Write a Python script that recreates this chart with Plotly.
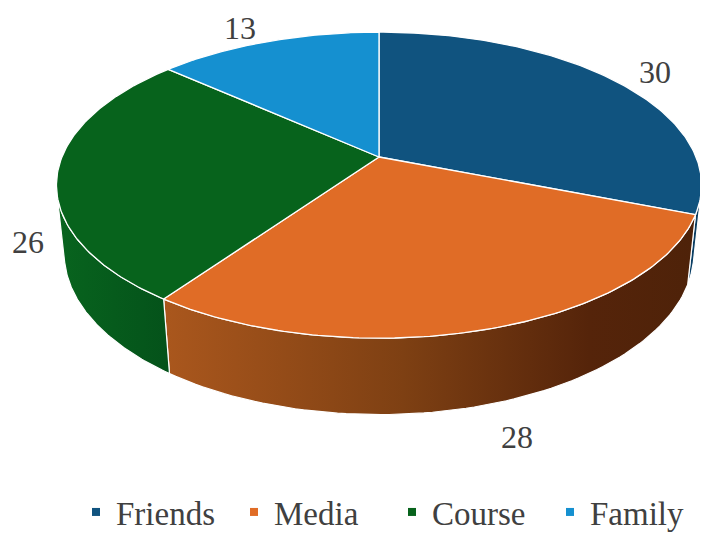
import numpy as np
import plotly.graph_objects as go

# data
labels = ["Friends", "Media", "Course", "Family"]
values = [30, 28, 26, 13]

# colours (top face / side wall gradient)
top_colors = ["#10537F", "#E06C26", "#07631C", "#1590D0"]
side_scales = [
    [[0, "#0C4168"], [1, "#0A3A5C"]],
    [[0, "#AA571D"], [0.45, "#7E4013"], [0.8, "#55240A"], [1, "#4E2209"]],
    [[0, "#08641E"], [1, "#04521A"]],
    [[0, "#127AB0"], [1, "#0F6A9A"]],
]

# page body has an 8px margin, so shift the axes to keep the picture in place
off = 8

# simple perspective camera for the 3d pie
cx, cy = 379, 157
f = 1525.0
D = 4.81
alpha = np.radians(27.8)
s, c = np.sin(alpha), np.cos(alpha)
h = 0.244


def project(phi, r=1.0, y=0.0):
    X = r * np.sin(phi)
    Z = r * np.cos(phi)
    depth = D + Z * c - y * s
    return cx + f * X / depth, cy - f * (y * c + Z * s) / depth


# visible part of the outer wall
v0 = np.arccos(-1 / (D * c))
v1 = 2 * np.pi - v0

fracs = np.array(values) / sum(values)
ends = np.cumsum(fracs) * 2 * np.pi
starts = ends - fracs * 2 * np.pi

fig = go.Figure()

# side walls first
for i in range(len(values)):
    lo, hi = max(starts[i], v0), min(ends[i], v1)
    if hi <= lo:
        continue
    t = np.linspace(lo, hi, 80)
    xt, yt = project(t)
    xb, yb = project(t[::-1], y=-h)
    fig.add_trace(go.Scatter(
        x=np.concatenate([xt, xb, xt[:1]]), y=np.concatenate([yt, yb, yt[:1]]),
        mode="lines", fill="toself", line=dict(color="white", width=1.2),
        fillgradient=dict(type="horizontal", colorscale=side_scales[i]),
        hoverinfo="skip", showlegend=False))

# top faces
for i in range(len(values)):
    t = np.linspace(starts[i], ends[i], 120)
    xa, ya = project(t)
    fig.add_trace(go.Scatter(
        x=np.concatenate([[cx], xa, [cx]]), y=np.concatenate([[cy], ya, [cy]]),
        mode="lines", fill="toself", fillcolor=top_colors[i],
        line=dict(color="white", width=1.3),
        hoverinfo="skip", showlegend=False))

# legend entries
for i in range(len(values)):
    fig.add_trace(go.Scatter(
        x=[None], y=[None], mode="markers", name=labels[i],
        marker=dict(symbol="square", size=8, color=top_colors[i])))

# data labels outside the slices
lab_r = [1.2, 1.15, 1.12, 1.3]
lab_y = [0, -h, -h, 0]
nudge = [(-3, -4), (10, 2), (2, 2), (-1, -15)]
for i in range(len(values)):
    mid = (starts[i] + ends[i]) / 2
    lx, ly = project(mid, r=lab_r[i], y=lab_y[i])
    fig.add_annotation(x=lx, y=ly, text=str(values[i]), showarrow=False,
                       xshift=nudge[i][0], yshift=nudge[i][1],
                       font=dict(family="Liberation Serif", size=32, color="#404040"))

fig.update_layout(
    width=708, height=536,
    margin=dict(l=0, r=0, t=0, b=0, autoexpand=False),
    paper_bgcolor="white", plot_bgcolor="white",
    xaxis=dict(range=[off, 708 + off], visible=False, fixedrange=True),
    yaxis=dict(range=[536 + off, off], visible=False, fixedrange=True),
    showlegend=True,
    legend=dict(orientation="h", x=(98 - off - 22) / 708, xanchor="left",
                y=1 - (512 - off) / 536, yanchor="middle",
                entrywidth=113, entrywidthmode="pixels",
                font=dict(family="Liberation Serif", size=33, color="#404040"),
                bgcolor="rgba(0,0,0,0)"),
)

fig.write_html("out.html")
